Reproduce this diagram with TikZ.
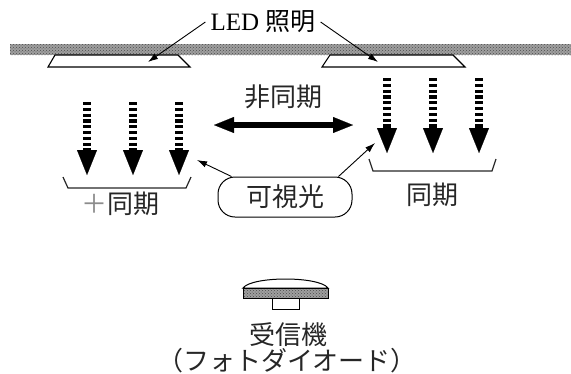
\documentclass[tikz,border=0pt]{standalone}
\usepackage{fontspec}
\setmainfont{Liberation Serif}
\newfontfamily\jp{Noto Sans CJK JP}
\usetikzlibrary{arrows.meta,patterns}
\begin{document}
\begin{tikzpicture}[x=1pt,y=-1pt,
  txt/.style={font=\jp\fontsize{26}{28}\selectfont, text=black!85, inner sep=0pt},
  lamp/.style={draw=black, line width=1.1pt, fill=white, line join=miter},
  lightray/.style={line width=7.5pt, dash pattern=on 3.2pt off 2.6pt,
     -{Triangle[length=25pt,width=20pt,line width=0.1pt]}},
  bracketline/.style={line width=1.2pt, black!85},
  pointer/.style={line width=0.9pt, -{Latex[length=10pt,width=6.5pt]}},
  thickarrow/.style={line width=5.5pt,
     {Triangle[length=20pt,width=16pt,line width=0.1pt]}-{Triangle[length=20pt,width=16pt,line width=0.1pt]}},
  hatchgray/.style={pattern=crosshatch dots, pattern color=black!70},
]
\useasboundingbox (0,0) rectangle (571,373);
% ceiling
\fill[gray!75] (10,44) rectangle (571,55);
\fill[hatchgray] (10,44) rectangle (571,55);
% lamps
\draw[lamp] (55,55) -- (178,55) -- (190,67) -- (48,67) -- cycle;
\draw[lamp] (330,55) -- (453,55) -- (465,67) -- (322,67) -- cycle;
% LED label
\node[font=\fontsize{25}{28}\selectfont, inner xsep=5pt, inner ysep=0pt] (led) at (263,22) {LED {\jp 照明}};
\coordinate (tipL) at (148,62);
\coordinate (tipR) at (378,62);
\draw[pointer] (led.west) -- (tipL);
\draw[pointer] (led.east) -- (tipR);
% light rays left
\foreach \x/\n in {87/a,133/b,179/c}{
  \coordinate (lt\n) at (\x,102);
  \coordinate (lb\n) at (\x,175);
  \draw[lightray] (lt\n) -- (lb\n);
}
% light rays right
\foreach \x/\n in {387/a,433/b,479/c}{
  \coordinate (rt\n) at (\x,78);
  \coordinate (rb\n) at (\x,153);
  \draw[lightray] (rt\n) -- (rb\n);
}
% brackets
\draw[bracketline] (63,177) -- (68,188) -- (186,188) -- (191,177);
\draw[bracketline] (369,159) -- (373,171) -- (492,171) -- (496,159);
% labels
\node[txt] (lsync) at (120,204) {{\color{black!45}＋}同期};
\node[txt] (rsync) at (432,195) {同期};
\node[txt] (async) at (283,97) {非同期};
% double arrow
\coordinate (dl) at (214,125);
\coordinate (dr) at (353,125);
\draw[thickarrow] (dl) -- (dr);
% visible light box
\node[txt, draw=black, line width=1pt, rounded corners=17pt, minimum width=134pt, minimum height=40pt] (vis) at (285,197) {可視光};
\coordinate (visL) at (197,160);
\coordinate (visR) at (375,143);
\draw[pointer] ([xshift=14pt]vis.north west) -- (visL);
\draw[pointer] ([xshift=-14pt]vis.north east) -- (visR);
% photodiode
\draw[line width=1pt, fill=white] (243,288) .. controls (252,276) and (319,276) .. (328,288) -- cycle;
\fill[gray!75] (243,288) rectangle (328,298);
\fill[hatchgray] (243,288) rectangle (328,298);
\draw[line width=1pt] (243,288) rectangle (328,298);
\draw[line width=1pt, fill=white] (272,298) rectangle (299,309);
\node[txt] (rx) at (288,335) {受信機};
\node[txt] (pd) at (287,361) {（フォトダイオード）};
\end{tikzpicture}
\end{document}
